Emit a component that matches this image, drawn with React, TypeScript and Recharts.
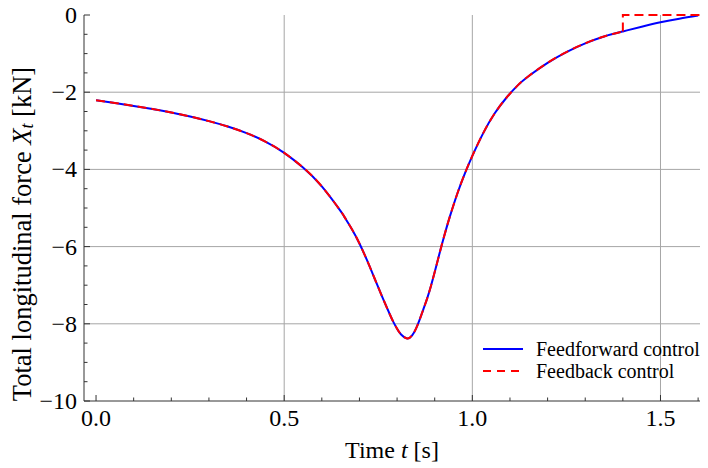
import React from "react";
import { LineChart, Line, XAxis, YAxis, CartesianGrid, Legend, Label } from "recharts";

// ---- data ----
const timeFF = [0.0, 0.05, 0.1, 0.15, 0.2, 0.25, 0.3, 0.35, 0.4, 0.45, 0.5, 0.55, 0.6, 0.65, 0.66, 0.68, 0.7, 0.72, 0.74, 0.76, 0.78, 0.79, 0.8, 0.81, 0.827, 0.84, 0.85, 0.86, 0.87, 0.88, 0.89, 0.9, 0.91, 0.92, 0.93, 0.94, 0.96, 0.98, 1.0, 1.03, 1.06, 1.09, 1.12, 1.15, 1.2, 1.25, 1.3, 1.35, 1.4, 1.45, 1.5, 1.55, 1.6];
const forceFF = [-2.21, -2.28, -2.355, -2.435, -2.525, -2.63, -2.75, -2.89, -3.06, -3.28, -3.57, -3.95, -4.44, -5.08, -5.23, -5.55, -5.92, -6.35, -6.82, -7.29, -7.74, -7.95, -8.13, -8.27, -8.38, -8.3, -8.13, -7.89, -7.62, -7.34, -7.02, -6.66, -6.28, -5.91, -5.56, -5.23, -4.63, -4.11, -3.65, -3.04, -2.54, -2.15, -1.83, -1.58, -1.24, -0.96, -0.735, -0.555, -0.425, -0.305, -0.19, -0.095, -0.015];

// feedback control: follows the same curve up to the switch, then jumps to zero
const timeFB = [0.0, 0.05, 0.1, 0.15, 0.2, 0.25, 0.3, 0.35, 0.4, 0.45, 0.5, 0.55, 0.6, 0.65, 0.66, 0.68, 0.7, 0.72, 0.74, 0.76, 0.78, 0.79, 0.8, 0.81, 0.827, 0.84, 0.85, 0.86, 0.87, 0.88, 0.89, 0.9, 0.91, 0.92, 0.93, 0.94, 0.96, 0.98, 1.0, 1.03, 1.06, 1.09, 1.12, 1.15, 1.2, 1.25, 1.3, 1.35, 1.4];
const forceFB = [-2.21, -2.28, -2.355, -2.435, -2.525, -2.63, -2.75, -2.89, -3.06, -3.28, -3.57, -3.95, -4.44, -5.08, -5.23, -5.55, -5.92, -6.35, -6.82, -7.29, -7.74, -7.95, -8.13, -8.27, -8.38, -8.3, -8.13, -7.89, -7.62, -7.34, -7.02, -6.66, -6.28, -5.91, -5.56, -5.23, -4.63, -4.11, -3.65, -3.04, -2.54, -2.15, -1.83, -1.58, -1.24, -0.96, -0.735, -0.555, -0.425];
const timeFBJump = [1.4, 1.4, 1.605];
const forceFBJump = [-0.425, 0.0, 0.0];

const xTicks = [0, 0.1, 0.2, 0.3, 0.4, 0.5, 0.6, 0.7, 0.8, 0.9, 1.0, 1.1, 1.2, 1.3, 1.4, 1.5, 1.6];
const xMajor = [0, 0.5, 1.0, 1.5];
const yTicks = [-10, -9.5, -9, -8.5, -8, -7.5, -7, -6.5, -6, -5.5, -5, -4.5, -4, -3.5, -3, -2.5, -2, -1.5, -1, -0.5, 0];
const yMajor = [-10, -8, -6, -4, -2, 0];
const gridX = [0.5, 1.0, 1.5];
const gridY = [-8, -6, -4, -2];

const seriesNames = ["Feedforward control", "Feedback control"];

const ffData = timeFF.map((t, i) => ({ t, v: forceFF[i] }));
const fbData = timeFB.map((t, i) => ({ t, v: forceFB[i] }));
const fbJumpData = timeFBJump.map((t, i) => ({ t, v: forceFBJump[i] }));

const FONT = "'Liberation Serif', 'Times New Roman', serif";
const FRAME = "#333";
const TICK_FS = 24;
const isMajor = (arr: number[], v: number) => arr.some((m) => Math.abs(m - v) < 1e-6);
const fmtY = (v: number) => (v < 0 ? "\u2212" + Math.abs(v) : String(v));

const BottomTick = (p: any) => {
  const { x, y, payload } = p;
  const major = isMajor(xMajor, payload.value);
  return (
    <g>
      <line x1={x} y1={y} x2={x} y2={y - (major ? 6 : 3.5)} stroke={FRAME} strokeWidth={1} />
      {major && (
        <text x={x} y={y + 25} textAnchor="middle" fontSize={TICK_FS} fontFamily={FONT} fill="#000">
          {payload.value.toFixed(1)}
        </text>
      )}
    </g>
  );
};
const TopTick = (p: any) => {
  const { x, y, payload } = p;
  const major = isMajor(xMajor, payload.value);
  return <line x1={x} y1={y} x2={x} y2={y + (major ? 6 : 3.5)} stroke={FRAME} strokeWidth={1} />;
};
const LeftTick = (p: any) => {
  const { x, y, payload } = p;
  const major = isMajor(yMajor, payload.value);
  return (
    <g>
      <line x1={x} y1={y} x2={x + (major ? 6 : 3.5)} y2={y} stroke={FRAME} strokeWidth={1} />
      {major && (
        <text x={x - 7} y={y + 8} textAnchor="end" fontSize={TICK_FS} fontFamily={FONT} fill="#000">
          {fmtY(payload.value)}
        </text>
      )}
    </g>
  );
};
const RightTick = (p: any) => {
  const { x, y, payload } = p;
  const major = isMajor(yMajor, payload.value);
  return <line x1={x} y1={y} x2={x - (major ? 6 : 3.5)} y2={y} stroke={FRAME} strokeWidth={1} />;
};

const YLabel = () => {
  const cx = 14;
  const cy = 226;
  return (
    <text
      x={cx}
      y={cy}
      transform={`rotate(-90 ${cx} ${cy})`}
      textAnchor="middle"
      dominantBaseline="central"
      fontSize={26.5}
      fontFamily={FONT}
      fill="#000"
    >
      Total longitudinal force <tspan fontStyle="italic">X</tspan>
      <tspan fontStyle="italic" fontSize={18} dy={5}>t</tspan>
      <tspan dy={-5}> [kN]</tspan>
    </text>
  );
};
const XLabel = (p: any) => {
  const vb = p.viewBox || { x: 0, y: 0, width: 0, height: 0 };
  const cx = vb.x + vb.width / 2;
  return (
    <text x={cx} y={vb.y + 57} textAnchor="middle" fontSize={24} fontFamily={FONT} fill="#000">
      Time <tspan fontStyle="italic">t</tspan> [s]
    </text>
  );
};

const LegendBox = () => (
  <div style={{ fontFamily: FONT, fontSize: 20, lineHeight: "22px", color: "#000" }}>
    <div style={{ display: "flex", alignItems: "center", height: 22 }}>
      <svg width={53} height={22}>
        <line x1={0} y1={11} x2={40} y2={11} stroke="#0000ff" strokeWidth={2} />
      </svg>
      <span>{seriesNames[0]}</span>
    </div>
    <div style={{ display: "flex", alignItems: "center", height: 22 }}>
      <svg width={53} height={22}>
        <line x1={0} y1={11} x2={40} y2={11} stroke="#ff0000" strokeWidth={2} strokeDasharray="8 6" />
      </svg>
      <span>{seriesNames[1]}</span>
    </div>
  </div>
);

export default function App() {
  return (
    <LineChart
      width={700}
      height={460}
      margin={{ top: 7, right: 8, bottom: 0, left: 0 }}
      style={{ overflow: "visible" }}
    >
      <CartesianGrid horizontalValues={gridY} verticalValues={gridX} stroke="#a6a6a6" strokeWidth={1} />
      <XAxis
        dataKey="t"
        type="number"
        domain={[-0.032, 1.605]}
        ticks={xTicks}
        interval={0}
        allowDataOverflow
        height={67}
        tickSize={0}
        tickMargin={0}
        tickLine={false}
        axisLine={{ stroke: FRAME, strokeWidth: 1 }}
        tick={BottomTick}
      >
        <Label content={XLabel} />
      </XAxis>
      <XAxis
        xAxisId="top"
        orientation="top"
        dataKey="t"
        type="number"
        domain={[-0.032, 1.605]}
        ticks={xTicks}
        interval={0}
        allowDataOverflow
        height={0}
        tickSize={0}
        tickMargin={0}
        tickLine={false}
        axisLine={{ stroke: FRAME, strokeWidth: 1 }}
        tick={TopTick}
      />
      <YAxis
        type="number"
        domain={[-10, 0]}
        ticks={yTicks}
        interval={0}
        width={76}
        tickSize={0}
        tickMargin={0}
        tickLine={false}
        axisLine={{ stroke: FRAME, strokeWidth: 1 }}
        tick={LeftTick}
      >
        <Label content={YLabel} />
      </YAxis>
      <YAxis
        yAxisId="right"
        orientation="right"
        type="number"
        domain={[-10, 0]}
        ticks={yTicks}
        interval={0}
        width={0}
        tickSize={0}
        tickMargin={0}
        tickLine={false}
        axisLine={{ stroke: FRAME, strokeWidth: 1 }}
        tick={RightTick}
      />
      <Line
        data={ffData}
        dataKey="v"
        name={seriesNames[0]}
        type="natural"
        stroke="#0000ff"
        strokeWidth={2}
        dot={false}
        isAnimationActive={false}
      />
      <Line
        data={fbData}
        dataKey="v"
        name={seriesNames[1]}
        type="natural"
        stroke="#ff0000"
        strokeWidth={2}
        strokeDasharray="9 5"
        dot={false}
        isAnimationActive={false}
      />
      <Line
        data={fbJumpData}
        dataKey="v"
        name={seriesNames[1]}
        type="linear"
        stroke="#ff0000"
        strokeWidth={2}
        strokeDasharray="9 5"
        dot={false}
        legendType="none"
        isAnimationActive={false}
      />
      <Legend
        layout="horizontal"
        verticalAlign="middle"
        align="center"
        content={LegendBox}
        wrapperStyle={{ position: "absolute", left: 475, top: 330, width: "auto" }}
      />
    </LineChart>
  );
}
